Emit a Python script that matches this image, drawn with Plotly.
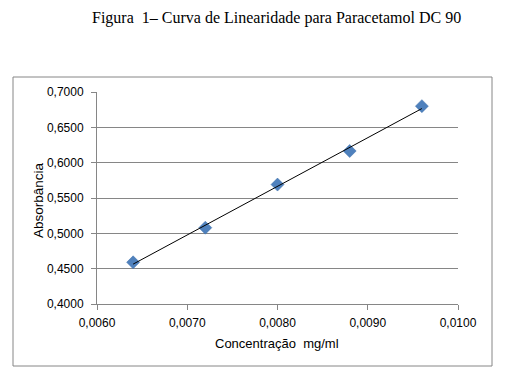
import numpy as np
import plotly.graph_objects as go

concentracao = [0.0064, 0.0072, 0.0080, 0.0088, 0.0096]
absorbancia = [0.459, 0.508, 0.569, 0.6165, 0.680]
x_ticks = [0.0060, 0.0070, 0.0080, 0.0090, 0.0100]
y_ticks = [0.40, 0.45, 0.50, 0.55, 0.60, 0.65, 0.70]

slope, intercept = np.polyfit(concentracao, absorbancia, 1)
trend_x = [min(concentracao), max(concentracao)]
trend_y = [slope * v + intercept for v in trend_x]

OFF = 8  # default page body margin
W, H = 505 - OFF, 375 - OFF
# plot-area edges in page pixels
L, R, T, B = 97, 458, 92, 304

def px(x):
    return (x - L) / (R - L)

def py(y):
    return (B - y) / (B - T)

fig = go.Figure()
fig.add_trace(go.Scatter(x=concentracao, y=absorbancia, mode="markers",
                         marker=dict(symbol="diamond", size=10, color="#4F81BD",
                                     line=dict(width=0.5, color="#3A6CA8")),
                         showlegend=False))
fig.add_trace(go.Scatter(x=trend_x, y=trend_y, mode="lines",
                         line=dict(color="black", width=1), showlegend=False))

fig.update_layout(
    width=W, height=H,
    margin=dict(l=L - OFF, r=505 - R, t=T - OFF, b=375 - B),
    paper_bgcolor="white", plot_bgcolor="white",
    separators=",.",
    font=dict(family="Liberation Sans, Arial, sans-serif", size=12, color="#000000"),
    xaxis=dict(range=[0.0060, 0.0100], tickvals=x_ticks, tickformat=".4f",
               showgrid=False, zeroline=False, showline=True, linecolor="#868686",
               linewidth=1, ticks="outside", ticklen=5, tickcolor="#868686",
               tickfont=dict(size=12), ticklabelstandoff=3, fixedrange=True),
    yaxis=dict(range=[0.40, 0.70], tickvals=y_ticks, tickformat=".4f",
               showgrid=True, gridcolor="#868686", gridwidth=1, zeroline=False,
               showline=True, linecolor="#868686", linewidth=1,
               ticks="outside", ticklen=5, tickcolor="#868686",
               tickfont=dict(size=12), ticklabelstandoff=5, fixedrange=True),
    shapes=[dict(type="rect", xref="paper", yref="paper",
                 x0=px(13), x1=px(492), y0=py(366), y1=py(77),
                 line=dict(color="#868686", width=1), fillcolor="rgba(0,0,0,0)",
                 layer="below")],
    annotations=[
        dict(text="Figura  1– Curva de Linearidade para Paracetamol DC 90",
             xref="paper", yref="paper", x=px(276), y=py(18), showarrow=False,
             xanchor="center", yanchor="middle",
             font=dict(family="Liberation Serif, Times New Roman, serif", size=16, color="black")),
        dict(text="Concentração  mg/ml", xref="paper", yref="paper",
             x=px(277), y=py(343), showarrow=False, xanchor="center", yanchor="middle",
             font=dict(size=13)),
        dict(text="Absorbância", xref="paper", yref="paper", textangle=-90,
             x=px(38), y=py(200), showarrow=False, xanchor="center", yanchor="middle",
             font=dict(size=13.5)),
    ],
)

fig.write_html("out.html")
